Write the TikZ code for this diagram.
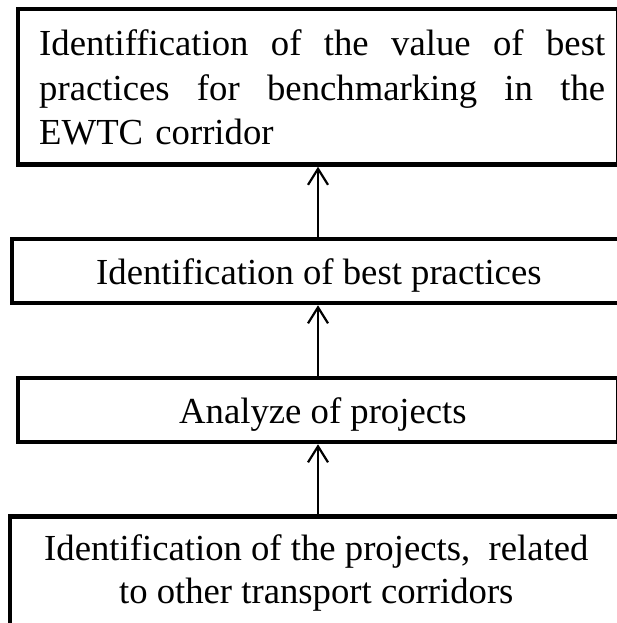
\documentclass[tikz,border=0pt]{standalone}
\usepackage{fontspec}
\setmainfont{Liberation Serif}[Ligatures=NoCommon]
\usetikzlibrary{arrows.meta}
\begin{document}
\begin{tikzpicture}[x=1pt,y=-1pt,
  stage/.style={draw, rectangle, line width=4.5pt, inner sep=0pt, outer sep=2.25pt},
  flow/.style={line width=2.2pt, -{Straight Barb[length=16pt,width=20pt]}},
  txt/.style={inner sep=0pt, font=\fontsize{36.7}{44.5}\selectfont},
  txtlow/.style={inner sep=0pt, font=\fontsize{36.7}{43}\selectfont}]
\useasboundingbox (0,0) rectangle (617,623);
\clip (0,0) rectangle (617,623);

% stage boxes (their right and lower parts run past the page edge)
\node[stage, minimum width=600pt, minimum height=155.5pt] (b1) at (318,86.75) {};
\node[stage, minimum width=612pt, minimum height=64pt] (b2) at (318,271) {};
\node[stage, minimum width=600pt, minimum height=64pt] (b3) at (318,410) {};
\node[stage, minimum width=616pt, minimum height=163.5pt] (b4) at (318,598.25) {};

% box texts; the first two lines of the top box are set full width
\node[txt, anchor=base west, text width=566pt, align=left] (t1) at (39,56)
  {\makebox[566pt][l]{Identiffication\hfill of\hfill the\hfill value\hfill of\hfill best}\\
   \makebox[566pt][l]{practices\hfill for\hfill benchmarking\hfill in\hfill the}\\
   EWTC corridor};
\node[txt, anchor=base west] (t2) at (96,284) {Identification of best practices};
\node[txt, anchor=base west] (t3) at (179,423.3) {Analyze of projects};
\node[txtlow, anchor=base, align=center] (t4) at (316.3,603)
  {Identification of the projects,\ \ related\\to other transport corridors};

% upward flow between stages
\draw[flow] (b4.north) -- (b3.south);
\draw[flow] (b3.north) -- (b2.south);
\draw[flow] (b2.north) -- (b1.south);
\end{tikzpicture}
\end{document}
